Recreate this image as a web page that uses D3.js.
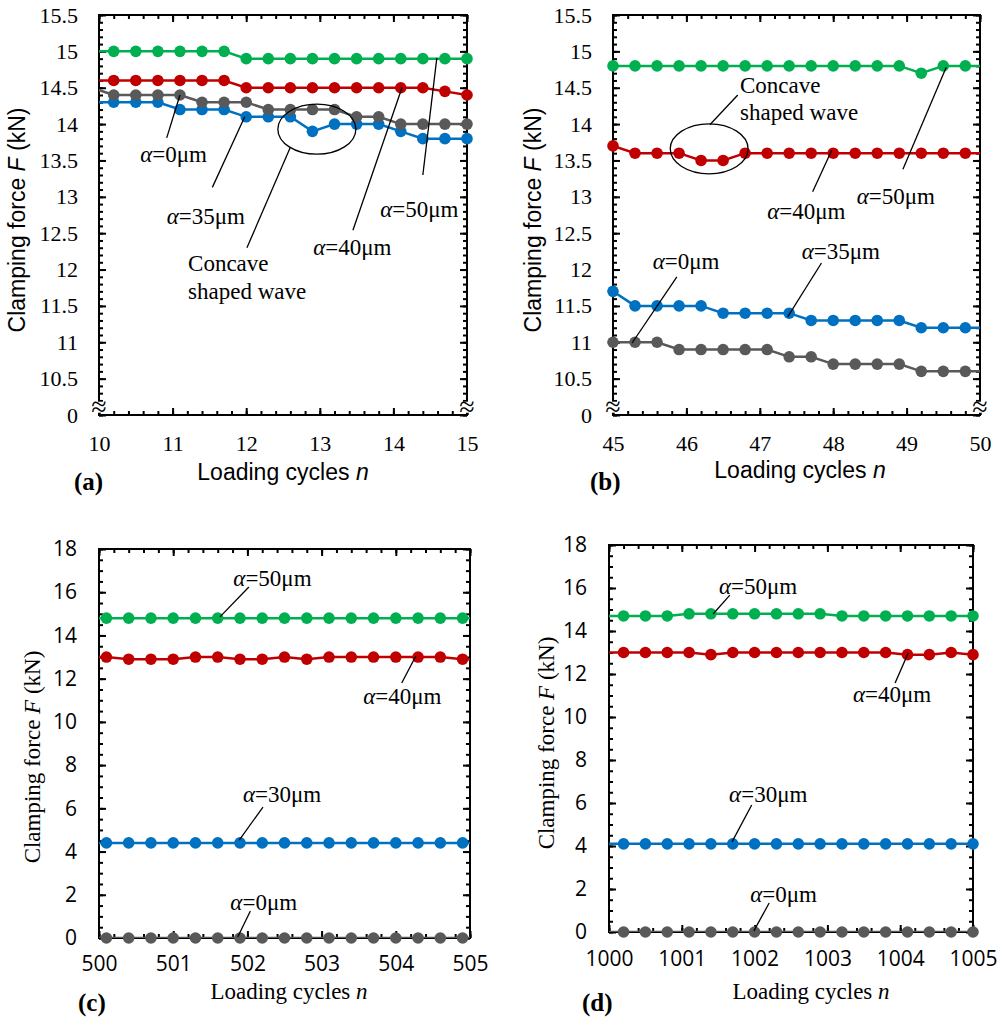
<!DOCTYPE html>
<html>
<head>
<meta charset="utf-8">
<script src="https://cdn.jsdelivr.net/npm/d3@7"></script>
<style>
  body { margin: 0; background: #fff; }
  svg { display: block; }
</style>
</head>
<body>
<svg width="999" height="1019"></svg>
<script>
// series colours (alpha = 0, 30/35, 40, 50 um)
const cGray = "#595959", cBlue = "#0070c0", cRed = "#c00000", cGreen = "#00b050";

// (a) loading cycles 10-15 (first point sits just outside the frame)
const cyclesA = [9.9, 10.2, 10.5, 10.8, 11.1, 11.4, 11.7, 12.0, 12.3, 12.6, 12.9, 13.2, 13.5, 13.8, 14.1, 14.4, 14.7, 15.0];
const a50A = [15.0, 15.0, 15.0, 15.0, 15.0, 15.0, 15.0, 14.9, 14.9, 14.9, 14.9, 14.9, 14.9, 14.9, 14.9, 14.9, 14.9, 14.9];
const a40A = [14.6, 14.6, 14.6, 14.6, 14.6, 14.6, 14.6, 14.5, 14.5, 14.5, 14.5, 14.5, 14.5, 14.5, 14.5, 14.5, 14.45, 14.4];
const a35A = [14.3, 14.3, 14.3, 14.3, 14.2, 14.2, 14.2, 14.1, 14.1, 14.1, 13.9, 14.0, 14.0, 14.0, 13.9, 13.8, 13.8, 13.8];
const a0A = [14.5, 14.4, 14.4, 14.4, 14.4, 14.3, 14.3, 14.3, 14.2, 14.2, 14.2, 14.2, 14.1, 14.1, 14.0, 14.0, 14.0, 14.0];

// (b) loading cycles 45-50
const cyclesB = [45.0, 45.3, 45.6, 45.9, 46.2, 46.5, 46.8, 47.1, 47.4, 47.7, 48.0, 48.3, 48.6, 48.9, 49.2, 49.5, 49.8, 50.1];
const a50B = [14.8, 14.8, 14.8, 14.8, 14.8, 14.8, 14.8, 14.8, 14.8, 14.8, 14.8, 14.8, 14.8, 14.8, 14.7, 14.8, 14.8, 14.8];
const a40B = [13.7, 13.6, 13.6, 13.6, 13.5, 13.5, 13.6, 13.6, 13.6, 13.6, 13.6, 13.6, 13.6, 13.6, 13.6, 13.6, 13.6, 13.6];
const a35B = [11.7, 11.5, 11.5, 11.5, 11.5, 11.4, 11.4, 11.4, 11.4, 11.3, 11.3, 11.3, 11.3, 11.3, 11.2, 11.2, 11.2, 11.2];
const a0B = [11.0, 11.0, 11.0, 10.9, 10.9, 10.9, 10.9, 10.9, 10.8, 10.8, 10.7, 10.7, 10.7, 10.7, 10.6, 10.6, 10.6, 10.6];

// (c) loading cycles 500-505
const cyclesC = [499.8, 500.1, 500.4, 500.7, 501.0, 501.3, 501.6, 501.9, 502.2, 502.5, 502.8, 503.1, 503.4, 503.7, 504.0, 504.3, 504.6, 504.9, 505.2];
const a50C = [14.8, 14.8, 14.8, 14.8, 14.8, 14.8, 14.8, 14.8, 14.8, 14.8, 14.8, 14.8, 14.8, 14.8, 14.8, 14.8, 14.8, 14.8, 14.8];
const a40C = [13.0, 13.0, 12.9, 12.9, 12.9, 13.0, 13.0, 12.9, 12.9, 13.0, 12.9, 13.0, 13.0, 13.0, 13.0, 13.0, 13.0, 12.9, 12.9];
const a30C = [4.4, 4.4, 4.4, 4.4, 4.4, 4.4, 4.4, 4.4, 4.4, 4.4, 4.4, 4.4, 4.4, 4.4, 4.4, 4.4, 4.4, 4.4, 4.4];
const a0C = [0, 0, 0, 0, 0, 0, 0, 0, 0, 0, 0, 0, 0, 0, 0, 0, 0, 0, 0];

// (d) loading cycles 1000-1005
const cyclesD = [999.9, 1000.2, 1000.5, 1000.8, 1001.1, 1001.4, 1001.7, 1002.0, 1002.3, 1002.6, 1002.9, 1003.2, 1003.5, 1003.8, 1004.1, 1004.4, 1004.7, 1005.0];
const a50D = [14.7, 14.7, 14.7, 14.7, 14.8, 14.8, 14.8, 14.8, 14.8, 14.8, 14.8, 14.7, 14.7, 14.7, 14.7, 14.7, 14.7, 14.7];
const a40D = [13.0, 13.0, 13.0, 13.0, 13.0, 12.9, 13.0, 13.0, 13.0, 13.0, 13.0, 13.0, 13.0, 13.0, 12.9, 12.9, 13.0, 12.9];
const a30D = [4.1, 4.1, 4.1, 4.1, 4.1, 4.1, 4.1, 4.1, 4.1, 4.1, 4.1, 4.1, 4.1, 4.1, 4.1, 4.1, 4.1, 4.1];
const a0D = [0, 0, 0, 0, 0, 0, 0, 0, 0, 0, 0, 0, 0, 0, 0, 0, 0, 0];

// tick labels
const xTicksA = [10, 11, 12, 13, 14, 15];
const xTicksB = [45, 46, 47, 48, 49, 50];
const xTicksC = [500, 501, 502, 503, 504, 505];
const xTicksD = [1000, 1001, 1002, 1003, 1004, 1005];
const yTicksAB = [10, 10.5, 11, 11.5, 12, 12.5, 13, 13.5, 14, 14.5, 15, 15.5];
const yTicksCD = [0, 2, 4, 6, 8, 10, 12, 14, 16, 18];

// annotations in data units: label text, text start, leader line
const notesA = [
  { t: "0", x: 10.56, y: 13.48, l: [[10.92, 13.81], [11.10, 14.40]] },
  { t: "35", x: 10.92, y: 12.63, l: [[11.54, 13.13], [11.98, 14.10]] },
  { t: "40", x: 12.91, y: 12.20, l: [[13.45, 12.54], [14.12, 14.51]] },
  { t: "50", x: 13.82, y: 12.72, l: [[14.40, 13.30], [14.59, 14.91]] }
];
const waveA = { x: 11.21, y: 11.98, dy: 28, cx: 12.96, cy: 13.93, rx: 0.53, ry: 0.344, l: [[12.60, 13.68], [12.01, 12.30]] };
const notesB = [
  { t: "40", x: 47.10, y: 12.69, l: [[47.72, 13.07], [47.98, 13.64]] },
  { t: "50", x: 48.32, y: 12.90, l: [[48.95, 13.38], [49.54, 14.78]] },
  { t: "0", x: 45.54, y: 12.01, l: [[45.87, 11.90], [45.26, 10.99]] },
  { t: "35", x: 47.57, y: 12.14, l: [[47.84, 12.09], [47.38, 11.35]] }
];
const waveB = { x: 46.73, y: 14.43, dy: 27, cx: 46.31, cy: 13.66, rx: 0.53, ry: 0.344, l: [[46.32, 13.99], [46.70, 14.40]] };
const notesC = [
  { t: "50", x: 501.81, y: 16.29, l: [[502.02, 16.24], [501.63, 14.86]] },
  { t: "40", x: 503.56, y: 10.83, l: [[504.08, 11.80], [504.27, 13.05]] },
  { t: "30", x: 501.94, y: 6.29, l: [[502.21, 6.06], [501.89, 4.53]] },
  { t: "0", x: 501.77, y: 1.30, l: [[502.04, 1.25], [501.87, 0.05]] }
];
const notesD = [
  { t: "50", x: 1001.51, y: 15.72, l: [[1001.66, 15.67], [1001.43, 14.79]] },
  { t: "40", x: 1003.35, y: 10.70, l: [[1003.93, 11.58], [1004.11, 12.98]] },
  { t: "30", x: 1001.65, y: 6.05, l: [[1001.96, 5.91], [1001.69, 4.19]] },
  { t: "0", x: 1001.94, y: 1.40, l: [[1002.20, 1.35], [1001.99, 0.05]] }
];

const SANS = "'Liberation Sans', Arial, sans-serif";
const SERIF = "'Liberation Serif', 'Times New Roman', serif";
const CALI = "'Open Sans', 'Noto Sans', sans-serif";

const svg = d3.select("svg");
svg.append("rect").attr("width", 999).attr("height", 1019).attr("fill", "#fff");

const panels = [
  {
    id: "a", left: 99, right: 467, top: 15, bottom: 415,
    xDomain: [10, 15], yDomain: [10, 15.5], cycles: cyclesA,
    series: [[a50A, cGreen], [a40A, cRed], [a35A, cBlue], [a0A, cGray]],
    xTicks: xTicksA, xMinor: 0.2, yTicks: yTicksAB, yMinor: 0.1,
    yFmt: d => d === 10 ? "0" : String(d), tickFont: SERIF, tickSize: 22,
    titleFont: SANS, titleX: 283, titleY: 480, yTitleX: 25, yTitleY: 220,
    tag: "(a)", tagX: 74, tagY: 490, xPad: 20, yPad: 21,
    notes: notesA, wave: waveA, breakMarks: true
  },
  {
    id: "b", left: 613, right: 980, top: 15, bottom: 415,
    xDomain: [45, 50], yDomain: [10, 15.5], cycles: cyclesB,
    series: [[a50B, cGreen], [a40B, cRed], [a35B, cBlue], [a0B, cGray]],
    xTicks: xTicksB, xMinor: 0.2, yTicks: yTicksAB, yMinor: 0.1,
    yFmt: d => d === 10 ? "0" : String(d), tickFont: SERIF, tickSize: 22,
    titleFont: SANS, titleX: 800, titleY: 478, yTitleX: 541, yTitleY: 220,
    tag: "(b)", tagX: 590, tagY: 490, xPad: 20, yPad: 21,
    notes: notesB, wave: waveB, breakMarks: true
  },
  {
    id: "c", left: 99, right: 470, top: 549, bottom: 938,
    xDomain: [500, 505], yDomain: [0, 18], cycles: cyclesC,
    series: [[a50C, cGreen], [a40C, cRed], [a30C, cBlue], [a0C, cGray]],
    xTicks: xTicksC, xMinor: 0.2, yTicks: yTicksCD, yMinor: 0.5,
    yFmt: d => String(d), tickFont: CALI, tickSize: 21,
    titleFont: SERIF, titleX: 289, titleY: 999, yTitleX: 40, yTitleY: 757,
    tag: "(c)", tagX: 78, tagY: 1011, xPad: 18, yPad: 22,
    notes: notesC, wave: null, breakMarks: false
  },
  {
    id: "d", left: 609, right: 973, top: 545, bottom: 932,
    xDomain: [1000, 1005], yDomain: [0, 18], cycles: cyclesD,
    series: [[a50D, cGreen], [a40D, cRed], [a30D, cBlue], [a0D, cGray]],
    xTicks: xTicksD, xMinor: 0.2, yTicks: yTicksCD, yMinor: 0.5,
    yFmt: d => String(d), tickFont: CALI, tickSize: 21,
    titleFont: SERIF, titleX: 811, titleY: 999, yTitleX: 554, yTitleY: 743,
    tag: "(d)", tagX: 582, tagY: 1011, xPad: 19, yPad: 22,
    notes: notesD, wave: null, breakMarks: false
  }
];

function minorValues(domain, step) {
  const n = Math.round((domain[1] - domain[0]) / step);
  return d3.range(0, n + 1).map(i => +(domain[0] + i * step).toFixed(3));
}

function styleAxis(sel, p) {
  sel.select(".domain").remove();
  sel.selectAll("line").attr("stroke", "#000").attr("stroke-width", 2);
  sel.selectAll("text").attr("fill", "#000");
  sel.attr("font-family", p.tickFont).attr("font-size", p.tickSize);
}

function alphaLabel(g, x, y, t) {
  const txt = g.append("text").attr("x", x).attr("y", y)
    .attr("font-family", SERIF).attr("font-size", 23).attr("fill", "#000");
  txt.append("tspan").attr("font-style", "italic").text("α");
  txt.append("tspan").text("=" + t + "μm");
}

function drawPanel(p) {
  const g = svg.append("g").attr("class", "panel-" + p.id);
  const x = d3.scaleLinear().domain(p.xDomain).range([p.left, p.right]);
  const y = d3.scaleLinear().domain(p.yDomain).range([p.bottom, p.top]);

  svg.append("clipPath").attr("id", "clip-" + p.id)
    .append("rect").attr("x", p.left).attr("y", p.top)
    .attr("width", p.right - p.left).attr("height", p.bottom - p.top);

  const xMin = minorValues(p.xDomain, p.xMinor);
  const yMin = minorValues(p.yDomain, p.yMinor);

  // minor ticks, all four sides, pointing inward
  g.append("g").attr("transform", `translate(0,${p.bottom})`)
    .call(d3.axisBottom(x).tickValues(xMin).tickSize(-4).tickFormat("")).call(styleAxis, p);
  g.append("g").attr("transform", `translate(0,${p.top})`)
    .call(d3.axisTop(x).tickValues(xMin).tickSize(-4).tickFormat("")).call(styleAxis, p);
  g.append("g").attr("transform", `translate(${p.left},0)`)
    .call(d3.axisLeft(y).tickValues(yMin).tickSize(-4).tickFormat("")).call(styleAxis, p);
  g.append("g").attr("transform", `translate(${p.right},0)`)
    .call(d3.axisRight(y).tickValues(yMin).tickSize(-4).tickFormat("")).call(styleAxis, p);

  // major ticks
  g.append("g").attr("transform", `translate(0,${p.bottom})`)
    .call(d3.axisBottom(x).tickValues(p.xTicks).tickSize(-7).tickPadding(p.xPad).tickFormat(d => String(d)))
    .call(styleAxis, p);
  g.append("g").attr("transform", `translate(0,${p.top})`)
    .call(d3.axisTop(x).tickValues(p.xTicks).tickSize(-7).tickFormat("")).call(styleAxis, p);
  g.append("g").attr("transform", `translate(${p.left},0)`)
    .call(d3.axisLeft(y).tickValues(p.yTicks).tickSize(-7).tickPadding(p.yPad).tickFormat(p.yFmt))
    .call(styleAxis, p);
  g.append("g").attr("transform", `translate(${p.right},0)`)
    .call(d3.axisRight(y).tickValues(p.yTicks).tickSize(-7).tickFormat("")).call(styleAxis, p);

  // frame
  g.append("rect").attr("x", p.left).attr("y", p.top)
    .attr("width", p.right - p.left).attr("height", p.bottom - p.top)
    .attr("fill", "none").attr("stroke", "#000").attr("stroke-width", 2);

  // axis break marks
  if (p.breakMarks) {
    const by = y(p.yDomain[0] + 0.1);
    [p.left, p.right].forEach(bx => {
      g.append("rect").attr("x", bx - 7).attr("y", by - 6).attr("width", 14).attr("height", 11).attr("fill", "#fff");
      g.append("text").attr("x", bx).attr("y", by + 8).attr("text-anchor", "middle")
        .attr("font-family", SERIF).attr("font-size", 28).text("≈");
    });
  }

  // series
  const line = d3.line().x(d => x(d[0])).y(d => y(d[1]));
  p.series.forEach(([vals, col]) => {
    const pts = p.cycles.map((c, i) => [c, vals[i]]);
    g.append("path").datum(pts)
      .attr("clip-path", `url(#clip-${p.id})`)
      .attr("d", line).attr("fill", "none")
      .attr("stroke", col).attr("stroke-width", 2.5);
    g.append("g").selectAll("circle")
      .data(pts.filter(d => d[0] >= p.xDomain[0] - 1e-6 && d[0] <= p.xDomain[1] + 1e-6))
      .join("circle")
      .attr("cx", d => x(d[0])).attr("cy", d => y(d[1])).attr("r", 5.8)
      .attr("fill", col);
  });

  // annotations
  const ann = g.append("g");
  p.notes.forEach(n => {
    ann.append("line")
      .attr("x1", x(n.l[0][0])).attr("y1", y(n.l[0][1]))
      .attr("x2", x(n.l[1][0])).attr("y2", y(n.l[1][1]))
      .attr("stroke", "#000").attr("stroke-width", 1.3);
    alphaLabel(ann, x(n.x), y(n.y), n.t);
  });
  if (p.wave) {
    const w = p.wave;
    ann.append("ellipse")
      .attr("cx", x(w.cx)).attr("cy", y(w.cy))
      .attr("rx", x(w.cx + w.rx) - x(w.cx)).attr("ry", y(w.cy) - y(w.cy + w.ry))
      .attr("fill", "none").attr("stroke", "#000").attr("stroke-width", 1.3);
    ann.append("line")
      .attr("x1", x(w.l[0][0])).attr("y1", y(w.l[0][1]))
      .attr("x2", x(w.l[1][0])).attr("y2", y(w.l[1][1]))
      .attr("stroke", "#000").attr("stroke-width", 1.3);
    const t = ann.append("text").attr("font-family", SERIF).attr("font-size", 23);
    t.append("tspan").attr("x", x(w.x)).attr("y", y(w.y)).text("Concave");
    t.append("tspan").attr("x", x(w.x)).attr("dy", w.dy).text("shaped wave");
  }

  // titles
  const xt = g.append("text").attr("x", p.titleX).attr("y", p.titleY)
    .attr("text-anchor", "middle").attr("font-family", p.titleFont).attr("font-size", 23);
  xt.append("tspan").text("Loading cycles ");
  xt.append("tspan").attr("font-style", "italic").text("n");

  const yt = g.append("text")
    .attr("transform", `translate(${p.yTitleX},${p.yTitleY}) rotate(-90)`)
    .attr("text-anchor", "middle").attr("font-family", p.titleFont).attr("font-size", 23);
  yt.append("tspan").text("Clamping force ");
  yt.append("tspan").attr("font-style", "italic").text("F");
  yt.append("tspan").text(" (kN)");

  g.append("text").attr("x", p.tagX).attr("y", p.tagY)
    .attr("font-family", SERIF).attr("font-weight", "bold").attr("font-size", 25)
    .text(p.tag);
}

panels.forEach(drawPanel);
</script>
</body>
</html>
